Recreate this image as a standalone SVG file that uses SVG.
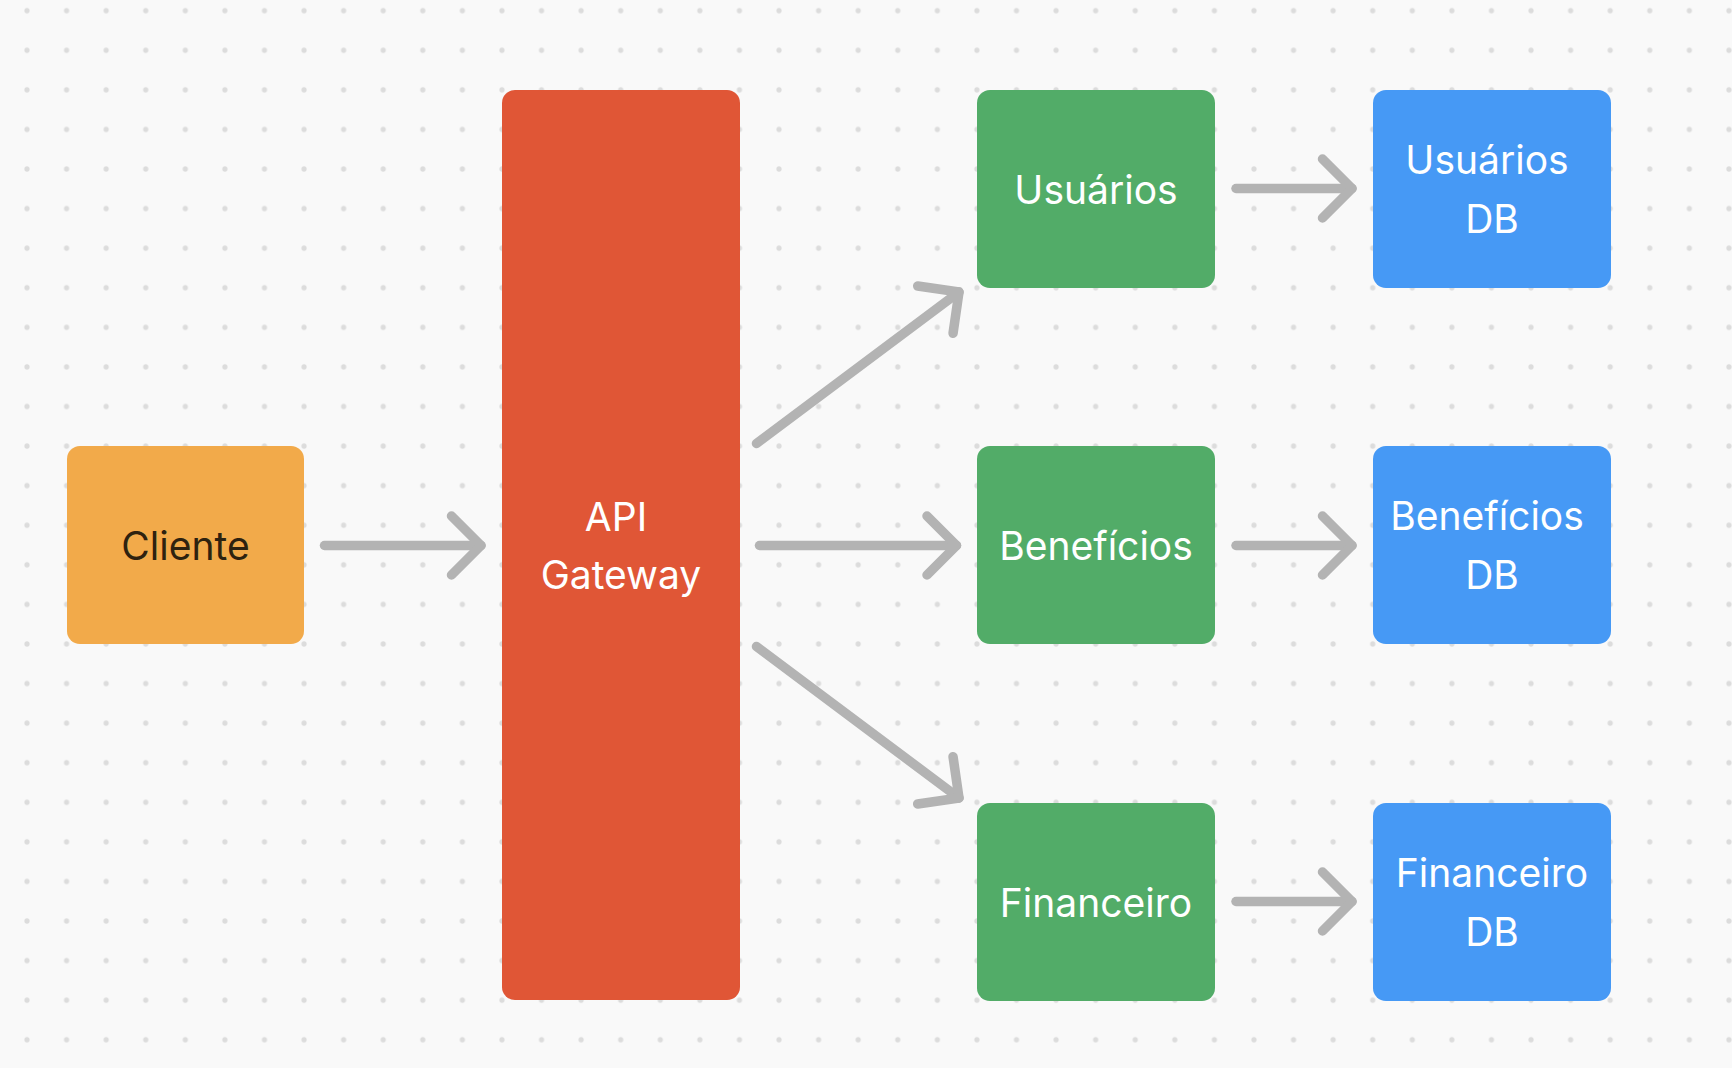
<svg xmlns="http://www.w3.org/2000/svg" width="1732" height="1068" viewBox="0 0 1732 1068">
  <defs>
    <pattern id="dots" x="7.21" y="-9.09" width="39.58" height="39.58" patternUnits="userSpaceOnUse">
      <circle cx="19.79" cy="19.79" r="2.6" fill="#dcdcdc"/>
    </pattern>
    <marker id="chev" markerUnits="userSpaceOnUse" viewBox="-40 -40 50 80" refX="0" refY="0" markerWidth="50" markerHeight="80" orient="auto" overflow="visible">
      <path d="M -29.5 -29.5 L 0 0 L -29.5 29.5" fill="none" stroke="#b3b3b3" stroke-width="9.5" stroke-linecap="round" stroke-linejoin="round"/>
    </marker>
    <style>
      .lbl { font-family: Inter, "Noto Sans", "Liberation Sans", sans-serif; font-size: 39px; text-anchor: middle; fill: #ffffff; }
      .dark { fill: #2e220f; }
      .conn line { stroke: #b3b3b3; stroke-width: 9.5; stroke-linecap: round; fill: none; marker-end: url(#chev); }
    </style>
  </defs>
  <rect x="0" y="0" width="1732" height="1068" fill="#f9f9f9"/>
  <rect x="0" y="0" width="1732" height="1068" fill="url(#dots)"/>

  <g id="connectors" class="conn">
    <line x1="324.5" y1="545.5" x2="481" y2="545.5"/>
    <line x1="756.5" y1="443.5" x2="959" y2="292"/>
    <line x1="759.5" y1="545.5" x2="956.5" y2="545.5"/>
    <line x1="756.5" y1="646.5" x2="959" y2="798"/>
    <line x1="1236" y1="188.5" x2="1352" y2="188.5"/>
    <line x1="1236" y1="545.5" x2="1352" y2="545.5"/>
    <line x1="1236" y1="901.5" x2="1352" y2="901.5"/>
  </g>

  <g id="cliente" class="node">
    <rect x="67" y="446" width="237" height="198" rx="13" fill="#f2aa4a"/>
    <text class="lbl dark" x="185.5" y="560">Cliente</text>
  </g>
  <g id="api-gateway" class="node">
    <rect x="502" y="90" width="238" height="910" rx="13" fill="#e05636"/>
    <text class="lbl" x="616" y="530.5">API</text>
    <text class="lbl" x="621" y="589">Gateway</text>
  </g>
  <g id="usuarios" class="node">
    <rect x="977" y="90" width="238" height="198" rx="13" fill="#52ac68"/>
    <text class="lbl" x="1096" y="203.5">Usuários</text>
  </g>
  <g id="beneficios" class="node">
    <rect x="977" y="446" width="238" height="198" rx="13" fill="#52ac68"/>
    <text class="lbl" x="1096" y="560">Benefícios</text>
  </g>
  <g id="financeiro" class="node">
    <rect x="977" y="803" width="238" height="198" rx="13" fill="#52ac68"/>
    <text class="lbl" x="1096" y="916.5">Financeiro</text>
  </g>
  <g id="usuarios-db" class="node">
    <rect x="1373" y="90" width="238" height="198" rx="13" fill="#4699f5"/>
    <text class="lbl" x="1487" y="174">Usuários</text>
    <text class="lbl" x="1492" y="233">DB</text>
  </g>
  <g id="beneficios-db" class="node">
    <rect x="1373" y="446" width="238" height="198" rx="13" fill="#4699f5"/>
    <text class="lbl" x="1487" y="530">Benefícios</text>
    <text class="lbl" x="1492" y="589">DB</text>
  </g>
  <g id="financeiro-db" class="node">
    <rect x="1373" y="803" width="238" height="198" rx="13" fill="#4699f5"/>
    <text class="lbl" x="1492" y="887">Financeiro</text>
    <text class="lbl" x="1492" y="946">DB</text>
  </g>
</svg>
